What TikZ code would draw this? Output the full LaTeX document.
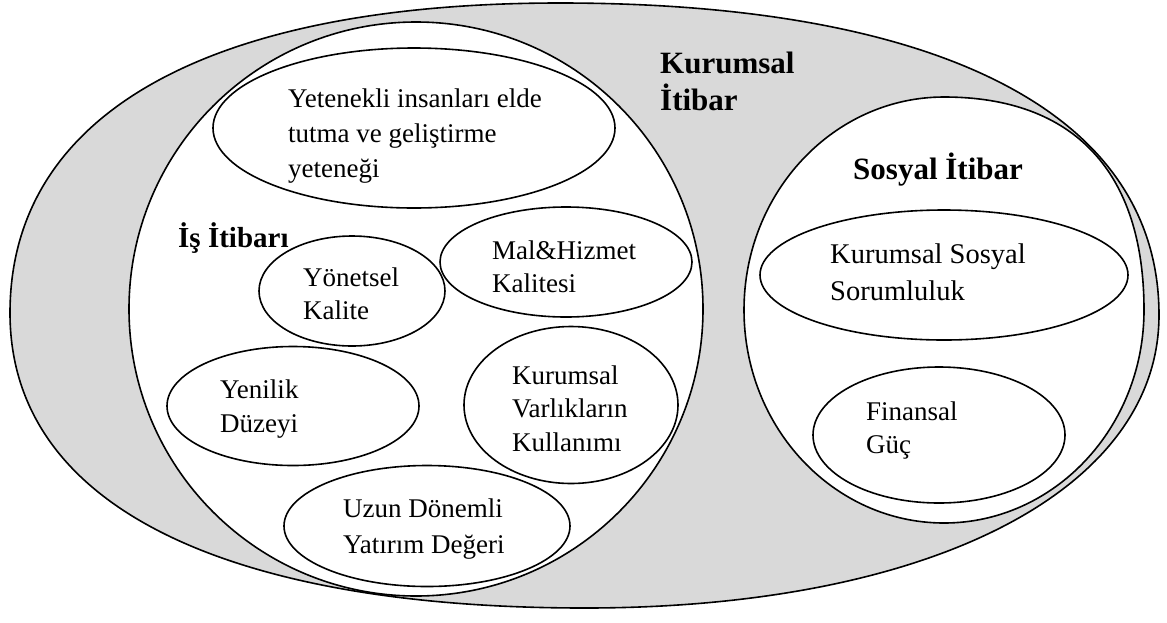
\documentclass[tikz,border=0pt]{standalone}
\usepackage{fontspec}
\setmainfont{Liberation Serif}
\usetikzlibrary{shapes.geometric}
\definecolor{shade}{RGB}{217,217,217}
\newcommand{\blk}[1]{\begin{tabular}[t]{@{}l@{}}#1\end{tabular}}
\tikzset{
  rim/.style={draw, line width=1.6pt},
  oval/.style={ellipse, rim, fill=white, inner sep=0pt},
  txt/.style={anchor=base west, inner sep=0pt, font=\fontsize{27}{#1}\selectfont},
  txt/.default=34,
  lbl/.style={anchor=base west, inner sep=0pt, font=\bfseries\fontsize{#1}{37}\selectfont},
  lbl/.default=31,
}
\begin{document}
\begin{tikzpicture}[x=1pt, y=-1pt]
\useasboundingbox (0,0) rectangle (1167,622);

% corporate reputation: the outer shaded oval
\coordinate (L) at (10,313);
\coordinate (T) at (560,3);
\coordinate (R) at (1159,315);
\coordinate (B) at (585,608);
\path[rim, fill=shade]
  (L) .. controls (10,111) and (213,3) .. (T)
      .. controls (937,3) and (1159,112) .. (R)
      .. controls (1159,491) and (929,608) .. (B)
      .. controls (223,608) and (10,505) .. cycle;

% business reputation area
\node[oval, minimum width=574, minimum height=574] (biz) at (416,309) {};

% social reputation area, a little fuller towards the upper right
\coordinate (sT) at (944,97);
\coordinate (sR) at (1144,310);
\coordinate (sB) at (944,523);
\coordinate (sL) at (744,310);
\path[rim, fill=white]
  (sT) .. controls (1074,97) and (1144,172) .. (sR)
       .. controls (1144,428) and (1054,523) .. (sB)
       .. controls (834,523) and (744,428) .. (sL)
       .. controls (744,192) and (834,97) .. cycle;

% business reputation components
\node[oval, minimum width=402, minimum height=160] (tal)    at (414,128) {};
\node[oval, minimum width=186, minimum height=110] (mgmt)   at (352,291) {};
\node[oval, minimum width=252, minimum height=110] (prod)   at (566,262) {};
\node[oval, minimum width=252, minimum height=119] (innov)  at (293,406) {};
\node[oval, minimum width=214, minimum height=157] (asset)  at (571,405) {};
\node[oval, minimum width=286, minimum height=121] (invest) at (427,526) {};

% social reputation components
\node[oval, minimum width=368, minimum height=130] (csr) at (944,275) {};
\node[oval, minimum width=252, minimum height=136] (fin) at (939,435) {};

% headings
\node[lbl] (lcorp) at (660,73)  {\blk{Kurumsal\\İtibar}};
\node[lbl] (lsoc)  at (853,179) {Sosyal İtibar};
\node[lbl=29] (lbiz) at (178,247) {İş İtibarı};

% component texts
\node[txt=35] (ttal)    at (288,107) {\blk{Yetenekli insanları elde\\tutma ve geliştirme\\yeteneği}};
\node[txt=33] (tmgmt)   at (303,286) {\blk{Yönetsel\\Kalite}};
\node[txt=33] (tprod)   at (492,259) {\blk{Mal\&Hizmet\\Kalitesi}};
\node[txt=34] (tinnov)  at (220,398) {\blk{Yenilik\\Düzeyi}};
\node[txt=33.5] (tasset)  at (512,384) {\blk{Kurumsal\\Varlıkların\\Kullanımı}};
\node[txt=36] (tinvest) at (343,517) {\blk{Uzun Dönemli\\Yatırım Değeri}};
\node[txt=37, font=\fontsize{28.5}{37}\selectfont] (tcsr) at (830,263) {\blk{Kurumsal Sosyal\\Sorumluluk}};
\node[txt=33] (tfin)    at (866,420) {\blk{Finansal\\Güç}};
\end{tikzpicture}
\end{document}
